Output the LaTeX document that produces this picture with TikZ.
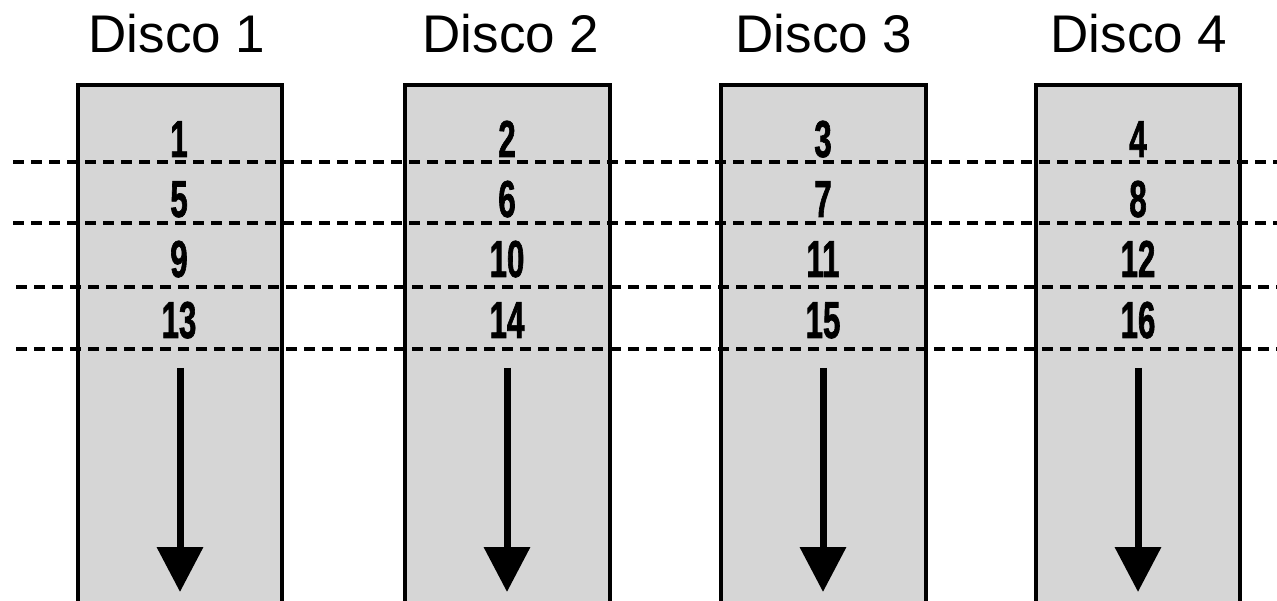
\documentclass[tikz,border=0pt]{standalone}
\usepackage{fontspec}
\setmainfont{Liberation Sans}
\newfontfamily\blocknum[FakeStretch=0.6,FakeBold=1.2]{Liberation Sans Bold}
\usetikzlibrary{arrows.meta}

\definecolor{disk}{HTML}{D6D6D6}

\begin{document}
\begin{tikzpicture}[x=1pt,y=1pt,
    title/.style={anchor=base,font=\fontsize{53}{60}\selectfont},
    num/.style={anchor=base,font=\blocknum\fontsize{52}{60}\selectfont},
    disk box/.style={line width=4.5pt,fill=disk},
    stripe/.style={line width=4.5pt,dash pattern=on 11pt off 7pt},
    flow/.style={line width=7pt,-{Triangle[width=45pt,length=45pt]}}]
      \clip (0,0) rectangle (1277,600);
      % disks, open at the bottom
      \draw[disk box] (78,-10) rectangle (282,515);
      \draw[disk box] (405,-10) rectangle (610,515);
      \draw[disk box] (721,-10) rectangle (926,515);
      \draw[disk box] (1036,-10) rectangle (1240,515);
      \node[title] (d1) at (177,547) {Disco 1};
      \node[title] (d2) at (511,547) {Disco 2};
      \node[title] (d3) at (824,547) {Disco 3};
      \node[title] (d4) at (1139,547) {Disco 4};
      % stripes
      \draw[stripe] (13,438) -- (1277,438);
      \draw[stripe] (13,377) -- (1277,377);
      \draw[stripe] (16,313) -- (1277,313);
      \draw[stripe] (16,251) -- (1277,251);
      % blocks
      \node[num] (n1) at (179,443) {1};
      \node[num] (n5) at (179,383) {5};
      \node[num] (n9) at (179,323) {9};
      \node[num] (n13) at (179,262) {13};
      \node[num] (n2) at (507,443) {2};
      \node[num] (n6) at (507,383) {6};
      \node[num] (n10) at (507,323) {10};
      \node[num] (n14) at (507,262) {14};
      \node[num] (n3) at (823,443) {3};
      \node[num] (n7) at (823,383) {7};
      \node[num] (n11) at (823,323) {11};
      \node[num] (n15) at (823,262) {15};
      \node[num] (n4) at (1138,443) {4};
      \node[num] (n8) at (1138,383) {8};
      \node[num] (n12) at (1138,323) {12};
      \node[num] (n16) at (1138,262) {16};
      % direction of the stripes
      \coordinate (a1) at (180,232);
      \coordinate (b1) at (180,8);
      \coordinate (a2) at (507,232);
      \coordinate (b2) at (507,8);
      \coordinate (a3) at (823,232);
      \coordinate (b3) at (823,8);
      \coordinate (a4) at (1138,232);
      \coordinate (b4) at (1138,8);
      \draw[flow] (a1) -- (b1);
      \draw[flow] (a2) -- (b2);
      \draw[flow] (a3) -- (b3);
      \draw[flow] (a4) -- (b4);
\end{tikzpicture}
\end{document}
